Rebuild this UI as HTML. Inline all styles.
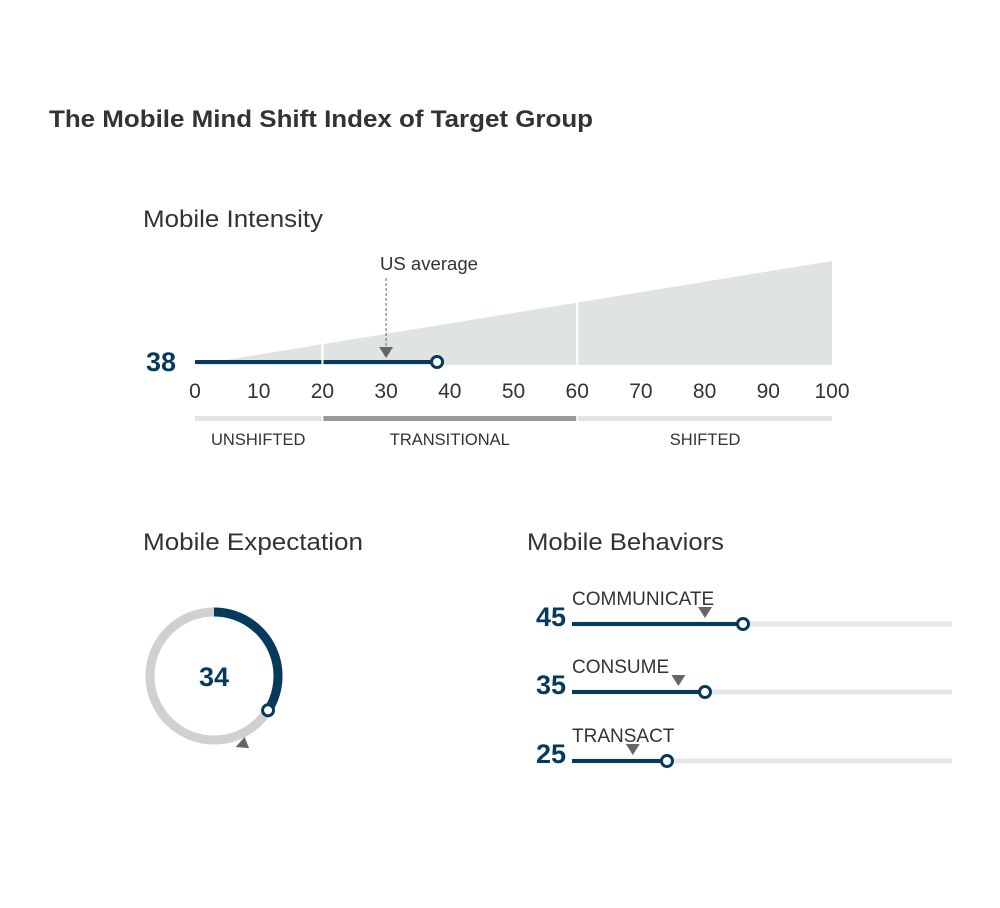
<!DOCTYPE html>
<html><head><meta charset="utf-8"><style>
body{margin:0;background:#fff;width:1000px;height:903px;overflow:hidden;font-family:"Liberation Sans",Arial,sans-serif}
</style></head><body>
<svg width="1000" height="903" font-family="Liberation Sans, Arial, sans-serif">
<text x="49" y="127" font-size="24" font-weight="bold" fill="#333" textLength="544" lengthAdjust="spacingAndGlyphs">The Mobile Mind Shift Index of Target Group</text>
<text x="143" y="227" font-size="24" fill="#333" textLength="180" lengthAdjust="spacingAndGlyphs">Mobile Intensity</text>
<text x="143" y="550" font-size="24" fill="#333" textLength="220" lengthAdjust="spacingAndGlyphs">Mobile Expectation</text>
<text x="527" y="550" font-size="24" fill="#333" textLength="197" lengthAdjust="spacingAndGlyphs">Mobile Behaviors</text>
<g id="intensity"></g>
<g id="donut"></g>
<g id="behaviors"></g>
</svg>
<script>
const NS="http://www.w3.org/2000/svg";
function mk(p,t,a){const e=document.createElementNS(NS,t);for(const k in a)e.setAttribute(k,a[k]);p.appendChild(e);return e;}
// Intensity data
const intensityValue=38;
const intensityAvg=30;
const tickValues=[0,10,20,30,40,50,60,70,80,90,100];
const zoneBounds=[0,20,60,100];
const zoneNames=["UNSHIFTED","TRANSITIONAL","SHIFTED"];
// Expectation
const expectationValue=34;
const expectationAvg=44;
// Behaviors
const behaviorNames=["COMMUNICATE","CONSUME","TRANSACT"];
const behaviorValues=[45,35,25];
const behaviorAvgs=[35,28,16];

const gi=document.getElementById('intensity');
const X=v=>195+v*6.37;
const yBase=365;
let tri=mk(gi,'polygon',{points:`${X(0)},${yBase} ${X(100)},261 ${X(100)},${yBase}`,fill:'#e0e3e4'});


[20,60].forEach(v=>{const l=mk(gi,'line',{x1:X(v),x2:X(v),y1:250,y2:yBase,stroke:'#fff','stroke-width':2});

});
let bar=mk(gi,'line',{x1:X(0),x2:X(intensityValue),y1:362,y2:362,stroke:'#063a5c','stroke-width':4});


let dv=mk(gi,'line',{x1:X(20),x2:X(20),y1:358,y2:366,stroke:'#fff','stroke-width':2});
let dot=mk(gi,'circle',{cx:X(intensityValue),cy:362,r:5.5,fill:'#fff',stroke:'#063a5c','stroke-width':3});


let vl=mk(gi,'text',{x:176,y:371,'font-size':27,'font-weight':'bold',fill:'#063a5c','text-anchor':'end'});vl.textContent=intensityValue;


let ax=X(intensityAvg);
let dl=mk(gi,'line',{x1:ax,x2:ax,y1:278,y2:348,stroke:'#666','stroke-width':1,'stroke-dasharray':'3,2'});
let at=mk(gi,'polygon',{points:`${ax-7},347 ${ax+7},347 ${ax},358`,fill:'#666'});


let atx=mk(gi,'text',{x:380,y:270,'font-size':18,fill:'#333',textLength:98,lengthAdjust:'spacingAndGlyphs'});atx.textContent='US average';


tickValues.forEach(v=>{const t=mk(gi,'text',{x:X(v),y:398,'font-size':21,fill:'#333','text-anchor':'middle'});t.textContent=v;

});
const zc=['#e3e3e3','#999','#e3e3e3'];
zoneNames.forEach((n,i)=>{const a=X(zoneBounds[i])+(i?1:0),b=X(zoneBounds[i+1])-(i<2?1:0);
const r=mk(gi,'rect',{x:a,y:416,width:b-a,height:5,fill:zc[i]});


const t=mk(gi,'text',{x:(a+b)/2,y:445,'font-size':16.5,fill:'#333','text-anchor':'middle'});t.textContent=n;

});

// donut
const gd=document.getElementById('donut');
const cx=214,cy=676,R=64;
let ring=mk(gd,'circle',{cx,cy,r:R,fill:'none',stroke:'#d0d0d0','stroke-width':9});


const ang=v=>v/100*2*Math.PI;
const P=(v,r)=>[cx+r*Math.sin(ang(v)),cy-r*Math.cos(ang(v))];
const pe=P(expectationValue,R);
let arc=mk(gd,'path',{d:`M${cx},${cy-R} A${R},${R} 0 ${expectationValue>50?1:0} 1 ${pe[0]},${pe[1]}`,fill:'none',stroke:'#063a5c','stroke-width':9});


let ed=mk(gd,'circle',{cx:pe[0],cy:pe[1],r:5.5,fill:'#fff',stroke:'#063a5c','stroke-width':3});


const pa=P(expectationAvg,R+10);const deg=expectationAvg*3.6;
let dt=mk(gd,'polygon',{points:'-6,-6 6,0 -6,6',fill:'#666',transform:`translate(${pa[0]},${pa[1]}) rotate(${deg})`});


let et=mk(gd,'text',{x:cx,y:cy+10,'font-size':27,'font-weight':'bold',fill:'#063a5c','text-anchor':'middle'});et.textContent=expectationValue;



// behaviors
const gb=document.getElementById('behaviors');
const BX=v=>572+v*3.8;
const rowY=[624,692,761];
behaviorNames.forEach((n,i)=>{const y=rowY[i];
const bg=mk(gb,'line',{x1:BX(0),x2:952,y1:y,y2:y,stroke:'#e6e6e6','stroke-width':5});


const b=mk(gb,'line',{x1:BX(0),x2:BX(behaviorValues[i]),y1:y,y2:y,stroke:'#063a5c','stroke-width':4});


const c=mk(gb,'circle',{cx:BX(behaviorValues[i]),cy:y,r:5.5,fill:'#fff',stroke:'#063a5c','stroke-width':3});


const m=BX(behaviorAvgs[i]);
const t=mk(gb,'polygon',{points:`${m-7},${y-17} ${m+7},${y-17} ${m},${y-6}`,fill:'#666'});


const lb=mk(gb,'text',{x:572,y:y-19,'font-size':19,fill:'#333'});lb.textContent=n;


const v=mk(gb,'text',{x:566,y:y+2,'font-size':27,'font-weight':'bold',fill:'#063a5c','text-anchor':'end'});v.textContent=behaviorValues[i];

});
</script>
</body></html>
